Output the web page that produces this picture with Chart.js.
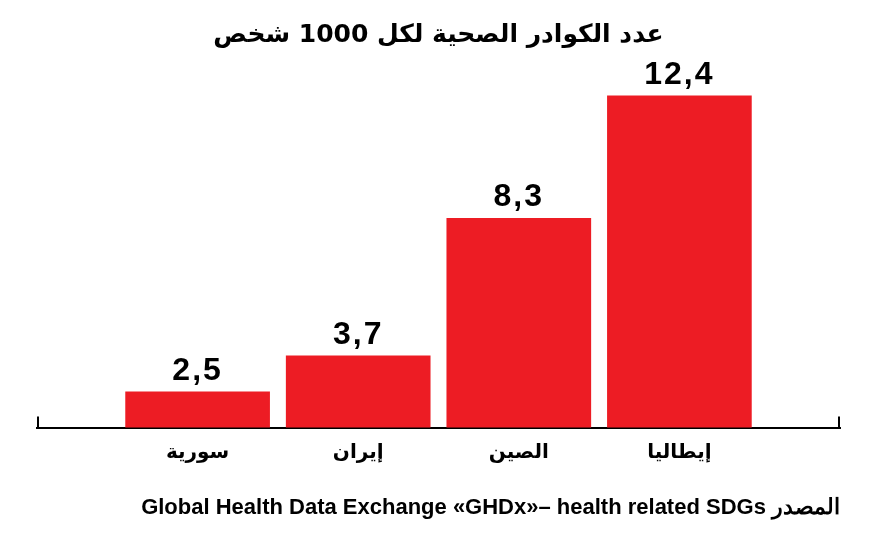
<!DOCTYPE html>
<html>
<head>
<meta charset="utf-8">
<script src="https://cdn.jsdelivr.net/npm/chart.js@4"></script>
<style>
  html, body { margin: 0; padding: 0; background: #fff; }
  #wrap { width: 878px; height: 545px; }
</style>
</head>
<body>
<div id="wrap"><canvas id="c" width="878" height="545"></canvas></div>
<script>
const titleText = 'عدد الكوادر الصحية لكل 1000 شخص';
const sourceText = 'Global Health Data Exchange «GHDx»– health related SDGs المصدر';
const categories = ['', 'سورية', 'إيران', 'الصين', 'إيطاليا', ''];
const values = [null, 2.5, 3.7, 8.3, 12.4, null];
const valueLabels = ['', '2,5', '3,7', '8,3', '12,4', ''];

const barLabels = {
  id: 'barLabels',
  afterDatasetsDraw(chart) {
    const ctx = chart.ctx;
    const meta = chart.getDatasetMeta(0);
    ctx.save();
    ctx.fillStyle = '#000';
    ctx.font = 'bold 32px "Liberation Sans", Arial, sans-serif';
    ctx.textAlign = 'center';
    ctx.textBaseline = 'alphabetic';
    try { ctx.letterSpacing = '2px'; } catch (e) {}
    meta.data.forEach((el, i) => {
      if (values[i] == null) return;
      ctx.fillText(valueLabels[i], el.x, el.y - 12);
    });
    ctx.restore();
  }
};

const endTicks = {
  id: 'endTicks',
  afterDraw(chart) {
    const ctx = chart.ctx;
    const xs = chart.scales.x;
    const y = chart.chartArea.bottom;
    ctx.save();
    ctx.strokeStyle = '#000';
    ctx.lineWidth = 2;
    ctx.beginPath();
    ctx.moveTo(xs.left + 1, y);
    ctx.lineTo(xs.left + 1, y - 11);
    ctx.moveTo(xs.right - 1, y);
    ctx.lineTo(xs.right - 1, y - 11);
    ctx.stroke();
    ctx.restore();
  }
};

new Chart(document.getElementById('c'), {
  type: 'bar',
  data: {
    labels: categories,
    datasets: [{
      data: values,
      backgroundColor: '#ED1C24',
      borderWidth: 0,
      barThickness: 144
    }]
  },
  options: {
    responsive: false,
    animation: false,
    devicePixelRatio: 1,
    layout: { padding: { left: 37, right: 38, top: 0, bottom: 0 } },
    plugins: {
      legend: { display: false },
      tooltip: { enabled: false },
      title: {
        display: true,
        text: titleText,
        color: '#000',
        font: { family: '"DejaVu Sans", sans-serif', size: 25, weight: 'bold' },
        padding: { top: 20, bottom: 1 }
      },
      subtitle: {
        display: true,
        position: 'bottom',
        align: 'end',
        text: sourceText,
        color: '#000',
        font: { family: '"Liberation Sans", Arial, sans-serif', size: 22, weight: 'bold' },
        padding: { top: 25, bottom: 24 }
      }
    },
    scales: {
      x: {
        offset: false,
        grid: { display: false },
        border: { display: true, color: '#000', width: 2 },
        ticks: {
          color: '#000',
          padding: 5,
          autoSkip: false,
          maxRotation: 0,
          font: { family: '"DejaVu Sans", sans-serif', size: 20, weight: 'bold' }
        }
      },
      y: {
        display: false,
        min: 1.3,
        max: 13.9
      }
    }
  },
  plugins: [barLabels, endTicks]
});
</script>
</body>
</html>
